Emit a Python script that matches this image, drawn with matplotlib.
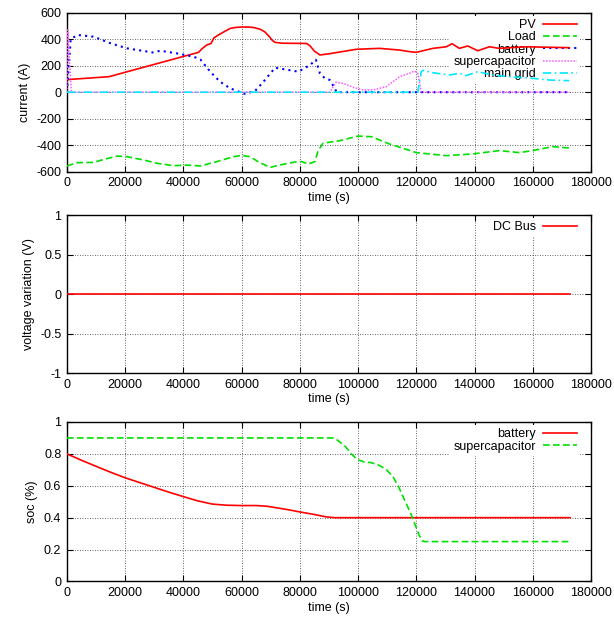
import numpy as np
import matplotlib
matplotlib.use("Agg")
import matplotlib.pyplot as plt
from matplotlib.ticker import FormatStrFormatter

plt.rcParams['font.family'] = ['Liberation Sans', 'DejaVu Sans']
plt.rcParams['font.size'] = 9

# current (A) vs time (s)
pv_t = [0, 14400, 45200, 46500, 48000, 49500, 50500, 52000, 56100, 58000, 60000, 62000,
        64000, 66300, 68000, 69500, 70500, 71500, 74000, 82300, 83500, 85000, 86900,
        90000, 99400, 107400, 114300, 117700, 120000, 125700, 130300, 132300, 134800,
        137700, 141100, 145100, 148500, 157700, 172500]
pv_i = [95, 117, 301, 330, 356, 368, 410, 432, 482, 489, 492, 492,
        489, 476, 455, 420, 392, 376, 370, 368, 350, 310, 281,
        290, 324, 331, 318, 306, 301, 331, 343, 366, 331,
        349, 313, 343, 331, 343, 336]

load_t = [0, 3500, 9200, 12700, 17300, 20700, 26400, 31000, 36700, 41200, 45800, 51500,
          57200, 60000, 62900, 66300, 69800, 74300, 78300, 80600, 82900, 85200, 86300,
          88000, 93700, 100000, 104600, 110800, 120000, 130300, 139400, 148500, 155400,
          159900, 166800, 172500]
load_i = [-557, -532, -530, -507, -482, -487, -512, -537, -555, -550, -557, -524,
          -487, -477, -487, -532, -567, -544, -527, -524, -542, -524, -440,
          -385, -366, -331, -336, -391, -456, -479, -466, -441, -456,
          -441, -411, -421]

bat_t = [0, 1300, 3600, 9200, 15000, 20700, 26400, 29500, 32100, 37800, 43500, 45800,
         49200, 52600, 56100, 59500, 61000, 64600, 67500, 71500, 75500, 79500, 83500,
         85500, 86900, 88600, 90300, 92000, 92600, 172800]
bat_i = [0, 400, 432, 419, 369, 331, 311, 300, 313, 293, 268, 248,
         155, 79, 29, 0, -12, 9, 79, 185, 170, 155, 205,
         245, 143, 105, 92, 29, 0, 0]

sc_t = [0, 300, 1500, 90300, 92400, 94900, 98300, 101700, 105100, 109700, 114300,
        117700, 119400, 120500, 121700, 172800]
sc_i = [0, 470, 0, 0, 75, 67, 37, 17, 17, 42, 117,
        143, 160, 143, 0, 0]

grid_t = [0, 120500, 121700, 122300, 125700, 131400, 134800, 137100, 141100, 146200,
          151900, 159900, 165600, 172500]
grid_i = [0, 0, 155, 165, 147, 130, 143, 125, 155, 130,
          117, 105, 92, 87]

# DC bus voltage variation
dc_t = [0, 172800]
dc_v = [0, 0]

# state of charge
soc_bat_t = [0, 5000, 10000, 15000, 20000, 25000, 30000, 35000, 40000, 45000, 50000,
             55000, 60000, 65000, 68600, 72000, 76000, 80000, 85000, 89000, 92000, 172800]
soc_bat = [0.80, 0.76, 0.722, 0.685, 0.65, 0.62, 0.59, 0.56, 0.532, 0.505, 0.485,
           0.478, 0.476, 0.476, 0.472, 0.462, 0.45, 0.436, 0.42, 0.405, 0.40, 0.40]

soc_sc_t = [0, 91600, 93000, 95700, 97700, 99700, 102000, 104500, 107000, 109500,
            111900, 114000, 116000, 118000, 119500, 121000, 122000, 123000, 172800]
soc_sc = [0.90, 0.90, 0.885, 0.845, 0.80, 0.765, 0.75, 0.745, 0.73, 0.705,
          0.66, 0.59, 0.51, 0.43, 0.36, 0.29, 0.255, 0.25, 0.25]

xticks = np.arange(0, 180001, 20000)

fig = plt.figure(figsize=(6.14, 6.18), dpi=100)
ax1 = fig.add_axes([0.109, 0.7222, 0.8535, 0.2572])
ax2 = fig.add_axes([0.109, 0.3964, 0.8535, 0.2556])
ax3 = fig.add_axes([0.109, 0.0591, 0.8535, 0.2581])

red = '#ff0000'
green = '#00e000'
blue = '#0000ff'
magenta = '#ff55ff'
cyan = '#00e8ff'

ax1.plot(pv_t, pv_i, color=red, lw=1.2, label='PV', zorder=3)
ax1.plot(load_t, load_i, color=green, lw=1.2, ls=(0, (4, 2)), label='Load', zorder=3)
ax1.plot(bat_t, bat_i, color=blue, lw=1.5, ls=(0, (1, 2)), label='battery', zorder=3)
ax1.plot(sc_t, sc_i, color=magenta, lw=1.1, ls=(0, (1, 1)), label='supercapacitor', zorder=3)
ax1.plot(grid_t, grid_i, color=cyan, lw=1.2, ls=(0, (5, 2, 1, 2)), label='main grid', zorder=3)
ax1.set_ylim(-600, 600)
ax1.set_yticks(np.arange(-600, 601, 200))
ax1.set_ylabel('current (A)')

ax2.plot(dc_t, dc_v, color=red, lw=1.2, label='DC Bus', zorder=3)
ax2.set_ylim(-1, 1)
ax2.set_yticks([-1, -0.5, 0, 0.5, 1])
ax2.set_ylabel('voltage variation (V)')

ax3.plot(soc_bat_t, soc_bat, color=red, lw=1.2, label='battery', zorder=3)
ax3.plot(soc_sc_t, soc_sc, color=green, lw=1.2, ls=(0, (4, 2)), label='supercapacitor', zorder=3)
ax3.set_ylim(0, 1)
ax3.set_yticks(np.arange(0, 1.01, 0.2))
ax3.set_ylabel('soc (%)')

for ax in (ax1, ax2, ax3):
    ax.set_xlim(0, 180000)
    ax.set_xticks(xticks)
    ax.set_xlabel('time (s)', labelpad=2)
    ax.yaxis.set_major_formatter(FormatStrFormatter('%g'))
    ax.tick_params(direction='in', top=True, right=True, length=4, width=0.8, pad=4)
    ax.grid(True, color='black', ls=(0, (1, 2)), lw=0.6, alpha=0.8, zorder=0)
    ax.set_axisbelow(True)
    for s in ax.spines.values():
        s.set_linewidth(1.0)
    leg = ax.legend(loc='upper right', bbox_to_anchor=(0.981, 0.987),
                    markerfirst=False, frameon=True, fancybox=False,
                    edgecolor='none', facecolor='white', framealpha=1,
                    handlelength=2.7, handletextpad=0.55, labelspacing=0.02,
                    borderpad=0.25, borderaxespad=0.1)
    leg.set_zorder(2)

fig.savefig('out.png', dpi=100)
